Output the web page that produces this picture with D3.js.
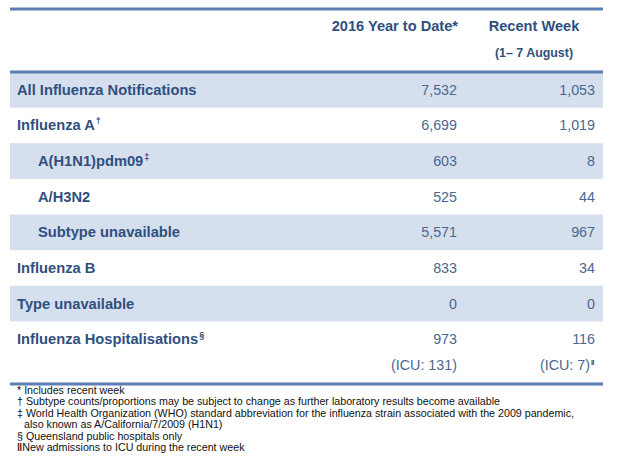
<!DOCTYPE html>
<html>
<head>
<meta charset="utf-8">
<script src="https://cdn.jsdelivr.net/npm/d3@7"></script>
<style>
  html, body { margin: 0; padding: 0; background: #ffffff; }
  svg { display: block; }
</style>
</head>
<body>
<svg id="chart" width="618" height="461"></svg>
<script>
// ---- data ----
const columnHeaders = ["2016 Year to Date*", "Recent Week"];
const columnSubHeaders = ["", "(1\u2013 7 August)"];
const rowLabels = [
  "All Influenza Notifications",
  "Influenza A",
  "A(H1N1)pdm09",
  "A/H3N2",
  "Subtype unavailable",
  "Influenza B",
  "Type unavailable",
  "Influenza Hospitalisations"
];
const rowMarks = ["", "\u2020", "\u2021", "", "", "", "", "\u00A7"];
const rowLevels = [0, 0, 1, 1, 1, 0, 0, 0];
const yearToDate = [7532, 6699, 603, 525, 5571, 833, 0, 973];
const recentWeek = [1053, 1019, 8, 44, 967, 34, 0, 116];
const icuYearToDate = 131;
const icuRecentWeek = 7;
const footnotes = [
  {mark: "*", text: " Includes recent week", indent: 0},
  {mark: "\u2020", text: " Subtype counts/proportions may be subject to change as further laboratory results become available", indent: 0},
  {mark: "\u2021", text: " World Health Organization (WHO) standard abbreviation for the influenza strain associated with the 2009 pandemic,", indent: 0},
  {mark: "", text: "also known as A/California/7/2009 (H1N1)", indent: 1},
  {mark: "\u00A7", text: " Queensland public hospitals only", indent: 0},
  {mark: "\u2016", text: "New admissions to ICU during the recent week", indent: 0}
];

// ---- layout ----
const svg = d3.select("#chart");
const left = 10, right = 603;
const labelColor = "#2f4f7e";
const numColor = "#4b6890";
const lineColor = "#5b7fb3";
const bandColor = "#d5dfee";
const fmt = d3.format(",");
const font = "'Liberation Sans', Arial, Helvetica, sans-serif";
const narrow = "'Liberation Sans Narrow', 'Arial Narrow', 'Liberation Sans', Arial, sans-serif";

const y = d3.scaleBand().domain(d3.range(rowLabels.length)).range([72, 357]).paddingInner(0).paddingOuter(0);
const colRight = d3.scaleOrdinal().domain([0, 1]).range([457, 595]);
const colCenter = d3.scaleOrdinal().domain([0, 1]).range([394, 534]);
const xLabel = d3.scaleOrdinal().domain([0, 1]).range([17, 38]);

// bands
svg.append("g").selectAll("rect")
  .data(d3.range(rowLabels.length).filter(i => i % 2 === 0))
  .join("rect")
  .attr("x", left).attr("width", right - left)
  .attr("y", i => y(i)).attr("height", y.bandwidth())
  .attr("fill", bandColor);

// rules
const rules = [9, 72, 384];
svg.append("g").selectAll("line").data(rules).join("line")
  .attr("x1", left).attr("x2", right)
  .attr("y1", d => d).attr("y2", d => d)
  .attr("stroke", lineColor).attr("stroke-width", 3);

// headers
const hdr = svg.append("g").attr("font-family", font).attr("font-weight", "bold").attr("fill", labelColor);
hdr.append("text").attr("x", colRight(0) + 1).attr("y", 31).attr("text-anchor", "end")
  .attr("font-size", 14.6).text(columnHeaders[0]);
hdr.append("text").attr("x", colCenter(1)).attr("y", 31).attr("text-anchor", "middle")
  .attr("font-size", 14.6).text(columnHeaders[1]);
hdr.append("text").attr("x", colCenter(1)).attr("y", 57).attr("text-anchor", "middle")
  .attr("font-size", 12.4).text(columnSubHeaders[1]);

// row labels
const rows = svg.append("g").selectAll("g").data(rowLabels).join("g")
  .attr("transform", (d, i) => `translate(0, ${y(i) + y.bandwidth() / 2 + 5})`);

const lbl = rows.append("text")
  .attr("x", (d, i) => xLabel(rowLevels[i]))
  .attr("font-family", font).attr("font-size", 14.7).attr("font-weight", "bold")
  .attr("fill", labelColor);
lbl.append("tspan").text(d => d);
lbl.append("tspan").attr("font-size", 9).attr("dy", -6).attr("dx", 1)
  .text((d, i) => rowMarks[i]);

rows.append("text")
  .attr("x", colRight(0)).attr("text-anchor", "end")
  .attr("font-family", font).attr("font-size", 14.3).attr("fill", numColor)
  .text((d, i) => fmt(yearToDate[i]));
rows.append("text")
  .attr("x", colRight(1)).attr("text-anchor", "end")
  .attr("font-family", font).attr("font-size", 14.3).attr("fill", numColor)
  .text((d, i) => fmt(recentWeek[i]));

// ICU row
const icu = svg.append("g").attr("font-family", font).attr("font-size", 14.3).attr("fill", numColor);
icu.append("text").attr("x", colRight(0)).attr("y", 370).attr("text-anchor", "end")
  .text(`(ICU: ${icuYearToDate})`);
icu.append("text").attr("x", colRight(1) - 5).attr("y", 370).attr("text-anchor", "end")
  .text(`(ICU: ${icuRecentWeek})`);
icu.append("text").attr("x", colRight(1) - 4).attr("y", 365)
  .attr("font-size", 7).attr("font-weight", "bold").attr("fill", "#4a0f14")
  .text("\u2016");

// footnotes
const fn = svg.append("g").attr("font-family", narrow).attr("font-size", 10.7).attr("fill", "#111");
const ft = fn.selectAll("text").data(footnotes).join("text")
  .attr("x", d => d.indent ? 24 : 17)
  .attr("y", (d, i) => 394 + i * 11.4);
ft.append("tspan").attr("fill", d => d.mark === "\u2016" ? "#4a0f14" : "#111")
  .attr("font-weight", d => d.mark === "\u2016" ? "bold" : "normal")
  .text(d => d.mark);
ft.append("tspan").text(d => d.text);
</script>
</body>
</html>
